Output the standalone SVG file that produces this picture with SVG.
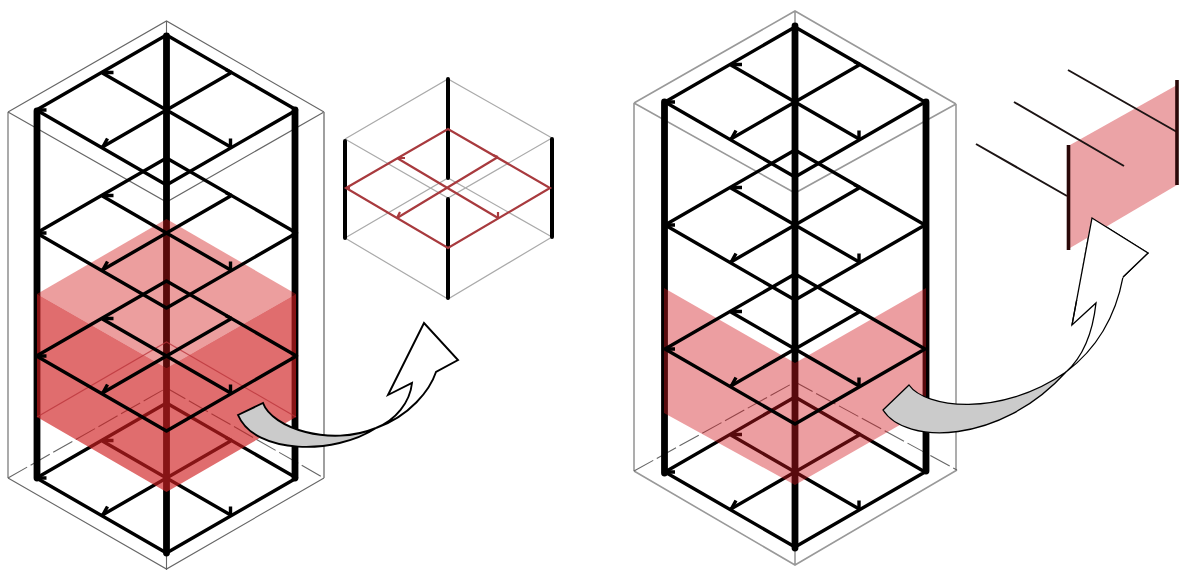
<svg xmlns="http://www.w3.org/2000/svg" width="1179" height="570" viewBox="0 0 1179 570">
<style>
.thin{fill:none;stroke:#666;stroke-width:1.1}
.thinR{fill:none;stroke:#999;stroke-width:1.6}
.dash{stroke-dasharray:22 4}
.col{stroke:#000;stroke-width:6.8;fill:none;stroke-linecap:round}
.beam{fill:none;stroke:#000;stroke-width:3.4;stroke-linejoin:round}
.arrow{stroke:#000;stroke-width:1.9;stroke-linejoin:miter}
.gray{fill:#cbcbcb}
.white{fill:#fff}
.small{fill:none;stroke:#aaa;stroke-width:1.2}
.redline{fill:none;stroke:#a83a3e;stroke-width:2.2}
</style>
<defs>
<g id="floor">
<path class="beam" d="M-130,0L0,-75L130,0L0,75ZM-65,-37.5L65,37.5M65,-37.5L-65,37.5"/>
<path class="beam" d="M-64,-37.5h11M65,-37.5l-6,-3M-64,37.5l5,-9M64,37.5v-9M-129,0h9"/>
</g>
</defs>

<g id="left-frame">
<path class="thin" d="M8,112L166.500,21L324,112M8,112L166.500,202L324,112M8,478L166.500,569L324,478M8,112V478M166.500,21V36M166.500,553V570"/>
<path d="M324,112V478" fill="none" stroke="#888" stroke-width="1.6"/>
<path class="thin dash" d="M8,478L166.500,388L324,478"/>
<path class="col" d="M37,111V478M295,110V478M166.500,36V553"/>
<use href="#floor" x="166.500" y="478"/>
</g>
<g id="left-volume">
<path d="M37,294L166.500,219L296,294L166.500,368Z" fill="rgb(210,25,25)" fill-opacity=".42"/>
<path d="M37,294L166.500,368L296,294V417L166.500,492L37,417Z" fill="rgb(207,30,32)" fill-opacity=".65"/>
<path d="M37,417L166.500,342L296,417" fill="none" stroke="#b83238" stroke-opacity=".75" stroke-width="1.2"/>
</g>
<g id="left-floors">
<use href="#floor" x="166.500" y="110"/>
<use href="#floor" x="166.500" y="233"/>
<use href="#floor" x="166.500" y="356"/>
</g>
<g id="left-arrow">
<path class="arrow gray" d="M238,415L263,403C272,428 330,447 376,428C335,455 255,455 238,415Z"/>
<path class="arrow white" d="M376,428C396,420 410,402 412,383L388,395L424,323L458,360L436,372C430,390 410,416 376,428Z"/>
</g>

<g id="small-frame">
<path class="small" d="M345,139L448,79L552,138M345,139L448,198L552,138M345,238L448,178L552,237M345,238L448,299L552,237"/>
<path class="col" style="stroke-width:4" d="M345,141V238M552,139V237M448,79V178M448,199V298"/>
<path class="redline" d="M346,188L448,129L550,188L448,248ZM397,158L498,218M498,157L397,218"/>
<path class="redline" d="M397,158h8M498,157l-5,-2M397,218l3,-6M498,218v-6M346,188h4"/>
</g>

<g id="right-frame">
<path class="thinR" d="M634,103L795,11L956,104M634,103L795,193L956,104M634,471L795,565L957,470M634,103V471M956,104V470M795,11V26M795,548V565"/>
<path class="thinR dash" style="stroke:#666;stroke-width:1.1" d="M634,471L795,382L957,470"/>
<path class="col" d="M664.500,102V473M926,102V471M795,26V548"/>
<use href="#floor" x="795" y="472"/>
</g>
<g id="right-volume">
<path d="M664,288L795,363L926,288V410L795,485L664,413Z" fill="rgb(210,25,30)" fill-opacity=".42"/>
</g>
<g id="right-floors">
<use href="#floor" x="795" y="102"/>
<use href="#floor" x="795" y="225"/>
<use href="#floor" x="795" y="349"/>
</g>
<g id="right-arrow">
<path class="arrow gray" style="stroke-width:1.3" d="M883,410L909,385C925,408 1000,418 1066,372C1000,445 905,445 883,410Z"/>
<path class="arrow white" style="stroke-width:1.3" d="M1066,372C1085,355 1093,330 1096,303L1072,325L1092,218L1148,253L1123,277C1115,320 1095,350 1066,372Z"/>
</g>

<g id="detail">
<path d="M1070,145L1177,85V185L1070,248Z" fill="#eba3a6"/>
<path d="M976,144L1067,196M1014,102L1124,166M1068,70L1177,132" fill="none" stroke="#1c1414" stroke-width="2"/>
<path d="M1068.500,145V250M1177,80V185" fill="none" stroke="#2a0808" stroke-width="3.600"/>
<path class="white" d="M1092,218L1148,253L1123,277L1100,300L1075,300Z"/>
<path fill="none" stroke="#000" stroke-width="1.300" d="M1072,325L1092,218L1148,253L1123,277"/>
</g>
</svg>
